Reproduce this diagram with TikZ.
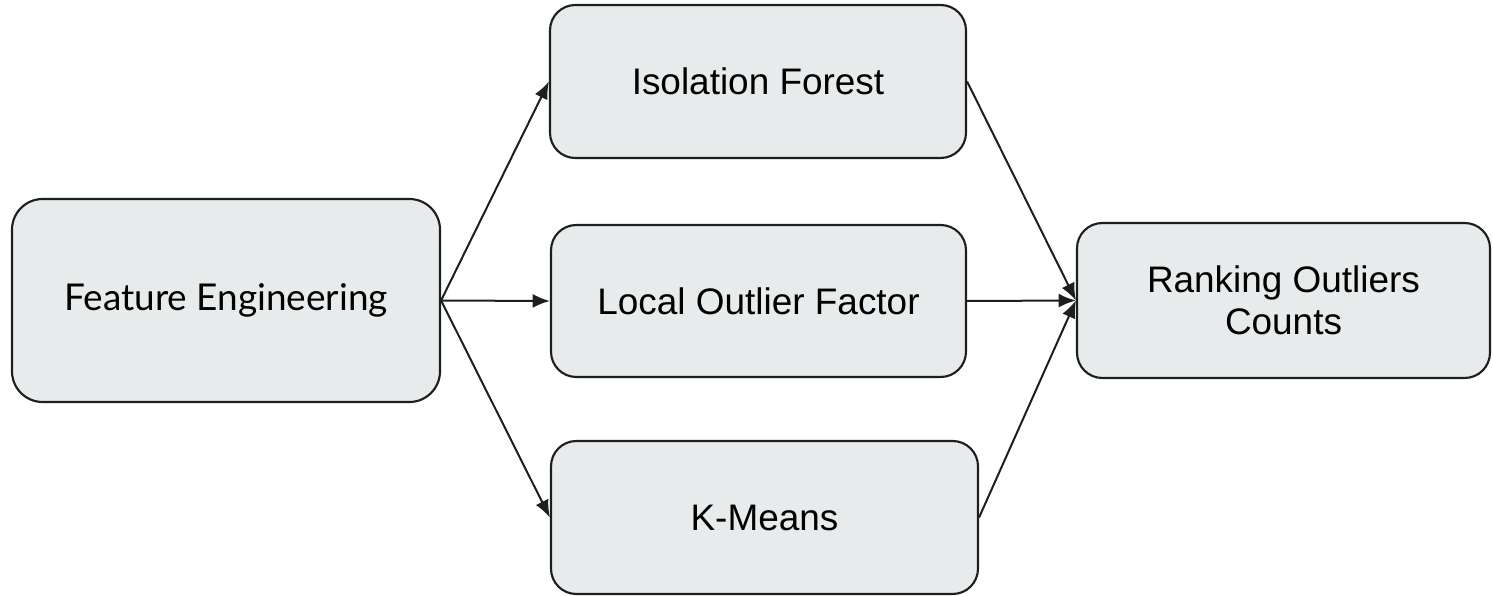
\documentclass[tikz,border=0pt]{standalone}
\usepackage{fontspec}
\setmainfont{Liberation Sans}
\newfontfamily\labelfont{Lato}
\usetikzlibrary{arrows.meta}
\definecolor{boxfill}{RGB}{232,235,236}
\definecolor{boxline}{RGB}{30,30,30}
\tikzset{
  stage/.style={draw=boxline, fill=boxfill, line width=1.6pt, rounded corners=19pt,
    align=center, inner sep=0pt, font=\fontsize{27.7}{31.5}\selectfont},
  flow/.style={draw=boxline, line width=1.5pt, -{Latex[length=13pt,width=10.5pt]}}
}
\begin{document}
\begin{tikzpicture}[x=0.75pt,y=-0.75pt]
  \useasboundingbox (0,0) rectangle (1493,596);
  \node[stage, rounded corners=23pt, minimum width=321pt, minimum height=152.25pt,
        font=\labelfont\fontsize{27.7}{31.5}\selectfont] (fe) at (226,300.5) {Feature Engineering};
  \node[stage, minimum width=312pt, minimum height=114.75pt] (iso) at (758,81.5) {Isolation Forest};
  \node[stage, minimum width=311.25pt, minimum height=114pt] (lof) at (758.5,301) {Local Outlier Factor};
  \node[stage, minimum width=320.25pt, minimum height=114.75pt] (km) at (764.5,517.5) {K-Means};
  \node[stage, minimum width=309.75pt, minimum height=116.25pt] (rank) at (1283.5,300.5) {Ranking Outliers\\Counts};
  \draw[flow] (fe.east) -- (iso.west);
  \draw[flow] (fe.east) -- (lof.west);
  \draw[flow] (fe.east) -- (km.west);
  \draw[flow] (iso.east) -- (rank.west);
  \draw[flow] (lof.east) -- (rank.west);
  \draw[flow] (km.east) -- (rank.west);
\end{tikzpicture}
\end{document}
